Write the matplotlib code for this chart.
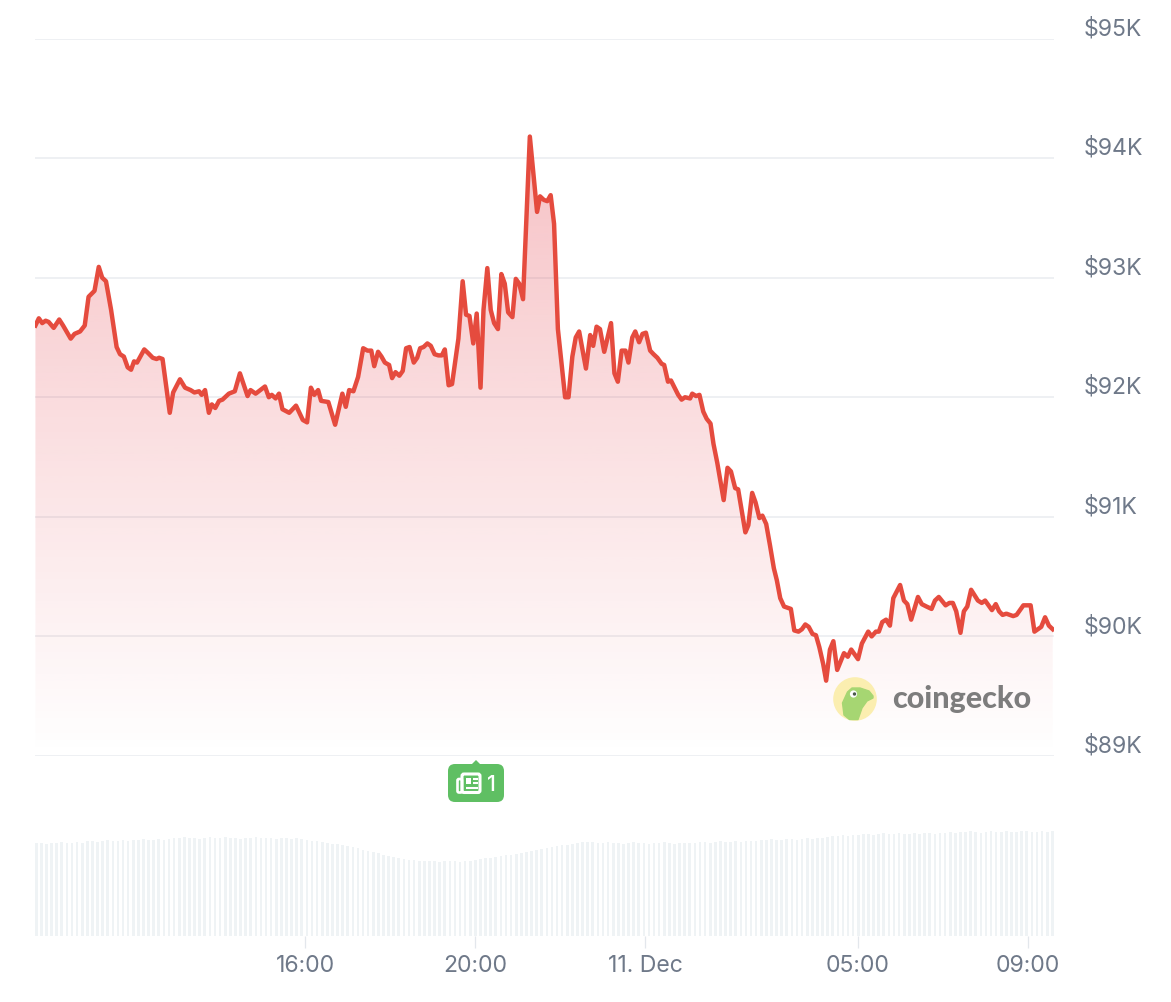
import numpy as np
import matplotlib
matplotlib.use("Agg")
import matplotlib.pyplot as plt
from matplotlib.patches import Circle, FancyBboxPatch, Polygon
from matplotlib.transforms import ScaledTranslation

W, H = 1171, 1003

# hours counted from 00:00 on 10 Dec, so 24 = "11. Dec"
hours = [
    9.66, 9.74, 9.82, 9.90, 9.97, 10.09, 10.22, 10.31, 10.49, 10.58, 10.71, 10.82, 10.91, 11.05, 11.15, 11.23,
    11.32, 11.44, 11.57, 11.65, 11.74, 11.83, 11.91, 11.98, 12.05, 12.22, 12.31, 12.42, 12.51, 12.57, 12.65, 12.82,
    12.90, 13.06, 13.18, 13.31, 13.40, 13.51, 13.57, 13.65, 13.74, 13.81, 13.89, 13.98, 14.06, 14.21, 14.35, 14.47,
    14.65, 14.72, 14.84, 15.06, 15.15, 15.22, 15.31, 15.39, 15.47, 15.63, 15.79, 15.95, 16.05, 16.14, 16.22, 16.31,
    16.38, 16.55, 16.71, 16.88, 16.96, 17.04, 17.14, 17.25, 17.37, 17.47, 17.56, 17.63, 17.72, 17.80, 17.88, 17.98,
    18.05, 18.13, 18.22, 18.30, 18.38, 18.46, 18.56, 18.64, 18.71, 18.79, 18.88, 18.96, 19.05, 19.14, 19.22, 19.29,
    19.38, 19.46, 19.61, 19.71, 19.79, 19.87, 19.96, 20.04, 20.13, 20.20, 20.29, 20.37, 20.45, 20.54, 20.62, 20.70,
    20.78, 20.88, 20.96, 21.04, 21.13, 21.29, 21.46, 21.53, 21.62, 21.70, 21.78, 21.86, 21.95, 22.12, 22.20, 22.29,
    22.37, 22.45, 22.61, 22.71, 22.78, 22.86, 22.94, 23.04, 23.20, 23.28, 23.36, 23.45, 23.54, 23.61, 23.70, 23.77,
    23.86, 23.94, 24.02, 24.12, 24.20, 24.29, 24.39, 24.45, 24.54, 24.61, 24.78, 24.86, 24.94, 25.06, 25.11, 25.20,
    25.28, 25.37, 25.45, 25.54, 25.61, 25.70, 25.85, 25.94, 26.02, 26.12, 26.19, 26.36, 26.43, 26.52, 26.60, 26.69,
    26.76, 26.85, 26.94, 27.03, 27.10, 27.18, 27.27, 27.43, 27.51, 27.61, 27.69, 27.77, 27.85, 27.94, 28.02, 28.10,
    28.19, 28.26, 28.35, 28.43, 28.52, 28.68, 28.77, 28.85, 29.01, 29.10, 29.25, 29.33, 29.43, 29.50, 29.58, 29.67,
    29.76, 29.84, 30.00, 30.09, 30.17, 30.26, 30.42, 30.51, 30.62, 30.74, 30.82, 30.91, 31.07, 31.16, 31.24, 31.32,
    31.42, 31.50, 31.58, 31.67, 31.83, 31.92, 32.00, 32.16, 32.25, 32.33, 32.41, 32.50, 32.66, 32.74, 32.90, 33.07,
    33.16, 33.32, 33.41, 33.50, 33.59,
]

# price in thousands of dollars
price_k = [
    92.60, 92.66, 92.62, 92.64, 92.63, 92.58, 92.65, 92.60, 92.49, 92.53, 92.55, 92.60, 92.84, 92.89, 93.09, 93.00,
    92.97, 92.73, 92.42, 92.36, 92.34, 92.25, 92.23, 92.30, 92.29, 92.40, 92.37, 92.33, 92.32, 92.33, 92.32, 91.87,
    92.04, 92.15, 92.08, 92.06, 92.04, 92.05, 92.02, 92.06, 91.87, 91.94, 91.91, 91.97, 91.98, 92.03, 92.05, 92.20,
    92.01, 92.06, 92.03, 92.09, 92.00, 92.02, 91.99, 92.03, 91.90, 91.87, 91.93, 91.81, 91.79, 92.08, 92.02, 92.06,
    91.97, 91.96, 91.77, 92.03, 91.92, 92.06, 92.05, 92.17, 92.41, 92.39, 92.39, 92.26, 92.38, 92.34, 92.29, 92.27,
    92.16, 92.21, 92.18, 92.22, 92.41, 92.42, 92.29, 92.33, 92.41, 92.42, 92.45, 92.43, 92.36, 92.35, 92.35, 92.40,
    92.10, 92.11, 92.49, 92.97, 92.69, 92.68, 92.45, 92.70, 92.08, 92.73, 93.08, 92.73, 92.62, 92.57, 93.03, 92.95,
    92.71, 92.67, 92.99, 92.95, 92.82, 94.18, 93.55, 93.68, 93.65, 93.64, 93.69, 93.45, 92.57, 92.00, 92.00, 92.34,
    92.50, 92.55, 92.24, 92.52, 92.43, 92.59, 92.57, 92.38, 92.62, 92.20, 92.13, 92.39, 92.39, 92.29, 92.50, 92.55,
    92.46, 92.53, 92.54, 92.39, 92.36, 92.33, 92.28, 92.27, 92.13, 92.14, 92.02, 91.98, 92.00, 91.99, 92.03, 92.01,
    92.02, 91.88, 91.82, 91.78, 91.61, 91.45, 91.14, 91.41, 91.38, 91.24, 91.23, 90.87, 90.93, 91.20, 91.12, 90.99,
    91.01, 90.94, 90.76, 90.57, 90.47, 90.32, 90.25, 90.23, 90.05, 90.04, 90.06, 90.10, 90.08, 90.02, 90.01, 89.91,
    89.77, 89.63, 89.89, 89.96, 89.72, 89.86, 89.83, 89.89, 89.81, 89.94, 90.04, 90.00, 90.04, 90.04, 90.12, 90.14,
    90.09, 90.32, 90.43, 90.30, 90.27, 90.14, 90.33, 90.27, 90.25, 90.23, 90.30, 90.33, 90.26, 90.28, 90.28, 90.21,
    90.03, 90.21, 90.25, 90.39, 90.30, 90.28, 90.30, 90.22, 90.27, 90.21, 90.18, 90.19, 90.17, 90.18, 90.26, 90.26,
    90.04, 90.08, 90.16, 90.09, 90.06,
]

# volume, arbitrary units (no axis in the picture)
volume = [
    93, 93, 92, 93, 93, 94, 93, 93, 94, 93,
    95, 95, 94, 95, 96, 95, 95, 96, 95,
    96, 96, 97, 96, 96, 97, 96, 97,
    98, 98, 99, 98, 98, 97, 98, 99, 98, 98, 99, 98, 98, 97, 98, 98, 99, 98, 98, 98, 97, 98, 98, 97, 98, 97,
    96, 95, 95, 94, 93, 92,
    92, 91, 90, 89, 88, 86, 85, 84, 83, 81, 80, 79, 78, 77, 76, 76,
    75, 75, 75, 75, 74, 75, 75, 75, 74, 75, 75, 76,
    77, 78, 78, 79, 80, 81, 81, 82, 83, 84, 85, 86, 87, 88, 89, 90, 91, 91, 92, 93, 94, 94,
    94, 93, 93, 94, 93, 93, 92, 93, 94, 93, 93, 92, 93, 93, 94, 93, 92, 93, 93, 93,
    93, 94, 94, 93, 94, 95, 94, 94, 95, 94, 95, 95,
    95, 96, 96, 97, 96, 96, 97, 97, 96, 97, 98, 97, 98, 98,
    99, 100, 100, 101, 100, 101, 101, 102,
    102, 101, 102, 103, 102, 102, 103, 102, 102, 103, 102, 103, 103, 102, 103, 103,
    104, 103, 104, 104, 105, 104, 103, 104, 105, 104, 104, 105, 104, 104, 105, 105, 104, 104, 105, 104, 105,
]

price_ticks = [89, 90, 91, 92, 93, 94, 95]
price_labels = ["$89K", "$90K", "$91K", "$92K", "$93K", "$94K", "$95K"]
time_ticks = [16, 20, 24, 29, 33]
time_labels = ["16:00", "20:00", "11. Dec", "05:00", "09:00"]

LINE = "#e54b3e"
FILL = "#e64550"
GRID = "#eef0f3"
TEXT = "#6f7989"
BARS = "#eff3f5"

plt.rcParams["font.family"] = ["Inter", "DejaVu Sans"]

fig = plt.figure(figsize=(W / 100, H / 100), dpi=100)


def px_axes(x0, y0, x1, y1):
    # y0 is the top edge, in image pixels
    return fig.add_axes([x0 / W, 1 - y1 / H, (x1 - x0) / W, (y1 - y0) / H])


xlim = (9.65, 33.62)

# --- price ---
ax = px_axes(35, 39.5, 1054, 757)
ax.set_facecolor("none")
ax.set_xlim(xlim)
ax.set_ylim(89, 95)

# gradient under the line, clipped to the area below it
grad = np.zeros((256, 1, 4))
grad[..., :3] = matplotlib.colors.to_rgb(FILL)
grad[:, 0, 3] = np.linspace(0.33, 0, 256)
im = ax.imshow(grad, extent=(xlim[0], xlim[1], 89, max(price_k)), aspect="auto", zorder=1)
area = ax.fill_between(hours, price_k, 89, color="none")
im.set_clip_path(area.get_paths()[0], transform=ax.transData)
ax.set_xlim(xlim)
ax.set_ylim(89, 95)

ax.plot(hours, price_k, color=LINE, lw=3.2, solid_joinstyle="round", zorder=3)

ax.yaxis.tick_right()
ax.set_yticks(price_ticks)
ax.set_yticklabels(price_labels)
ax.set_xticks([])
ax.grid(axis="y", color=GRID, lw=1.4)
ax.set_axisbelow(True)
ax.tick_params(axis="y", length=0, pad=21.6, labelsize=16.6, labelcolor=TEXT)
for lab in ax.get_yticklabels():
    lab.set_transform(lab.get_transform() + ScaledTranslation(0, 9.4 / 72, fig.dpi_scale_trans))
for s in ax.spines.values():
    s.set_visible(False)

# --- volume ---
vax = px_axes(35, 827, 1054, 937)
vax.set_xlim(xlim)
vax.set_ylim(0, 110)
bar_hours = np.linspace(9.68, 33.58, len(volume))
vax.bar(bar_hours, volume, width=0.062, color=BARS, lw=0)
vax.set_yticks([])
vax.set_xticks(time_ticks)
vax.set_xticklabels(time_labels)
vax.tick_params(axis="x", length=8.5, width=0.9, color="#e3e7ec", pad=4.5, labelsize=16.6, labelcolor=TEXT)
for s in vax.spines.values():
    s.set_visible(False)

# --- overlay in image pixels: news badge and logo ---
ov = fig.add_axes([0, 0, 1, 1])
ov.set_xlim(0, W)
ov.set_ylim(H, 0)
ov.axis("off")

GREEN = "#5fbf63"
ov.add_patch(FancyBboxPatch((454, 771), 44, 26, boxstyle="round,pad=6,rounding_size=7", fc=GREEN, ec="none"))
ov.add_patch(Polygon([(471, 766), (476, 761), (481, 766)], fc=GREEN, ec="none"))
# newspaper glyph
ov.add_patch(FancyBboxPatch((462, 775), 18, 18.5, boxstyle="round,pad=0,rounding_size=2", fc="none", ec="white", lw=2.2))
ov.add_patch(FancyBboxPatch((457.5, 780), 4.5, 13.5, boxstyle="round,pad=0,rounding_size=1.5", fc="none", ec="white", lw=1.9))
ov.add_patch(Polygon([(465.5, 778.5), (471, 778.5), (471, 784.5), (465.5, 784.5)], fc="white", ec="none"))
ov.plot([473, 477.5], [780, 780], color="white", lw=1.5, solid_capstyle="butt")
ov.plot([473, 477.5], [784, 784], color="white", lw=1.5, solid_capstyle="butt")
ov.plot([465.5, 477.5], [788.5, 788.5], color="white", lw=1.5, solid_capstyle="butt")
ov.text(491, 785, "1", color="white", fontsize=15.5, ha="center", va="center", fontweight="medium")

ov.add_patch(Circle((855, 700), 21.8, fc="#fbeeb0", ec="none"))
ov.add_patch(Polygon([(849.5, 720.5), (844, 716), (842.5, 704), (847.5, 693), (852, 689), (860, 689),
                      (869, 692), (873, 697), (873, 699), (867, 702), (862, 709), (858, 720.5)],
                     fc="#a6d672", ec="#a6d672", lw=1, joinstyle="round"))
ov.add_patch(Circle((853.5, 695), 3.6, fc="white", ec="none"))
ov.add_patch(Circle((854.5, 695), 1.7, fc="#4a5a4a", ec="none"))
ov.text(892, 708, "coingecko", color="#7d7d7d", fontsize=22, family=["Lato", "DejaVu Sans"], fontweight="black",
        ha="left", va="baseline")

fig.savefig("out.png", dpi=100, facecolor="white")
